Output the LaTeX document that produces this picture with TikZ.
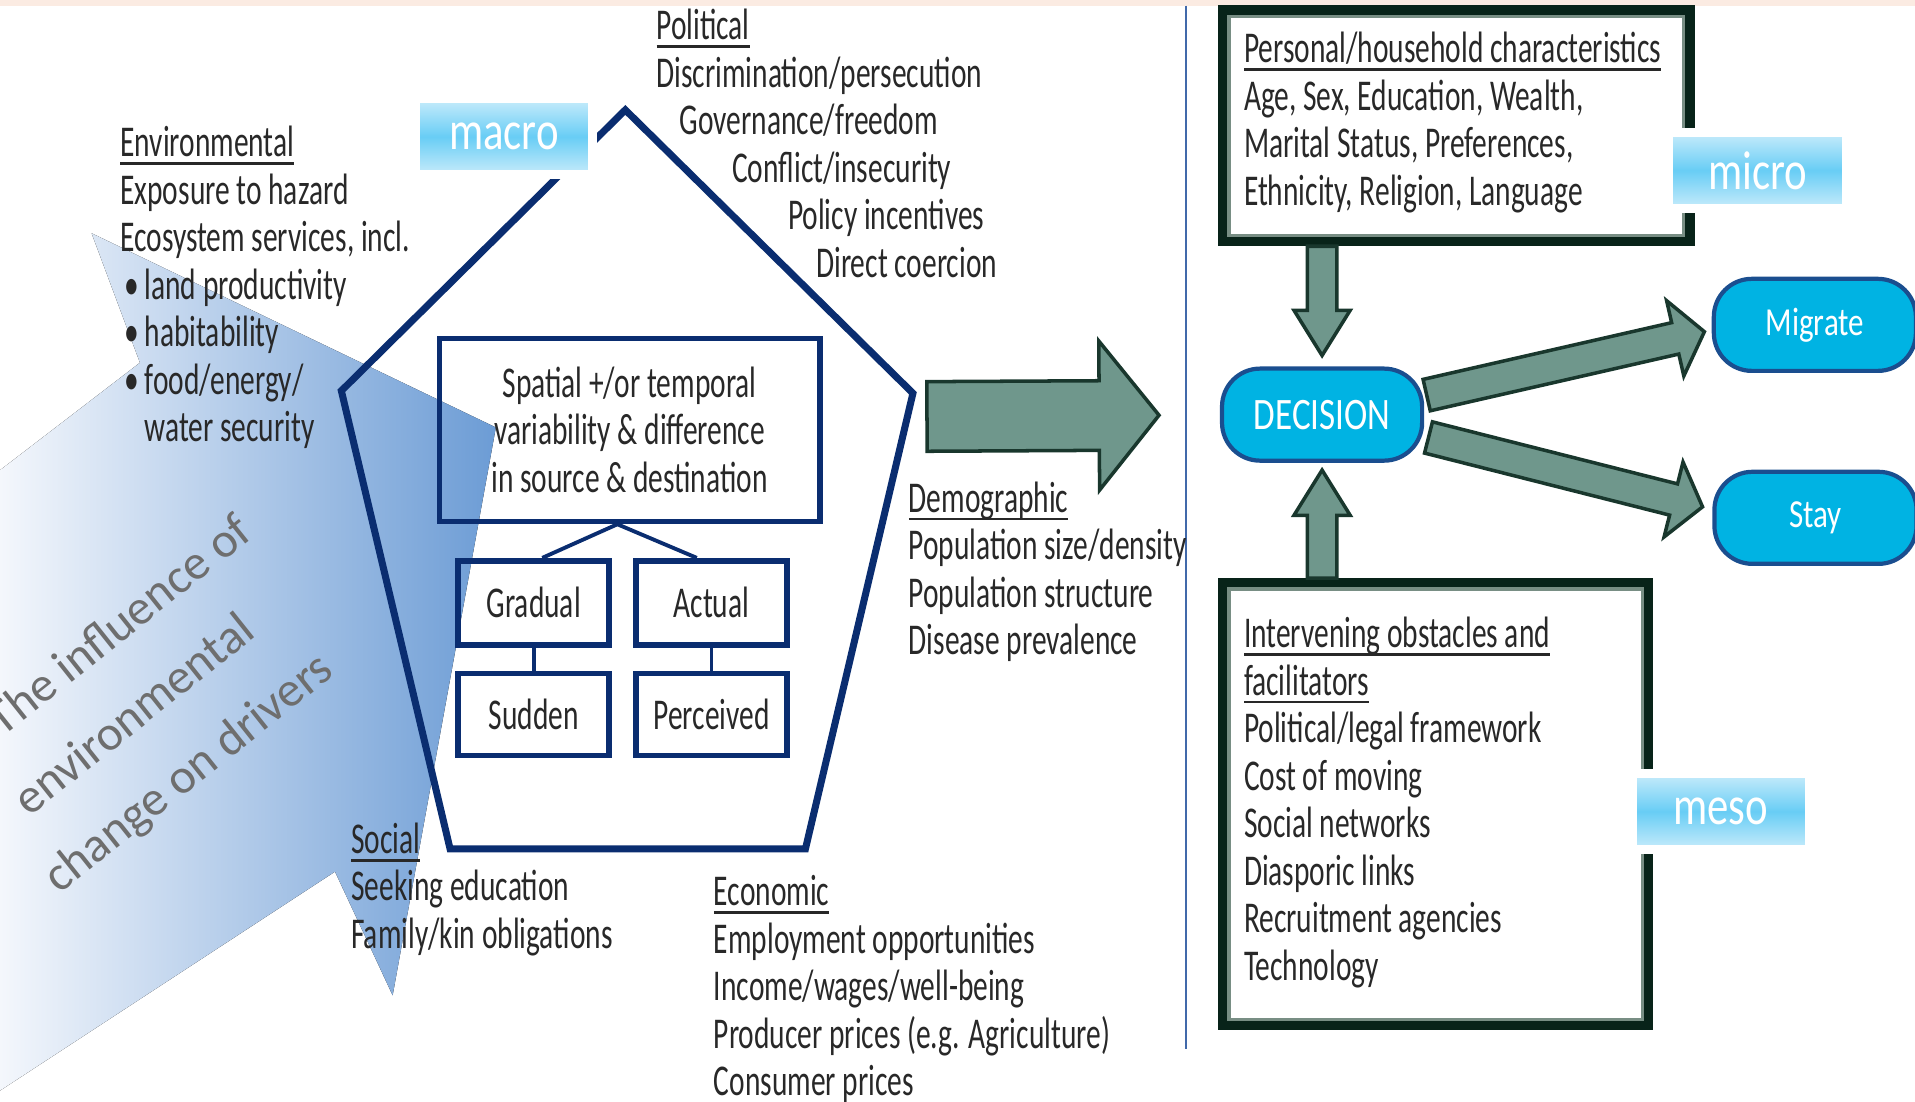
\documentclass[tikz,border=0pt]{standalone}
\usepackage{fontspec}
\setmainfont{Carlito}
\newfontfamily\gill{Carlito}[FakeStretch=0.67]
\newfontfamily\gillm{Carlito}[FakeStretch=0.78]
\usetikzlibrary{positioning,calc}

\definecolor{navy}{RGB}{10,45,112}
\definecolor{txt}{RGB}{40,40,40}
\definecolor{peach}{RGB}{251,235,226}
\definecolor{divblue}{RGB}{65,105,170}
\definecolor{arrL}{RGB}{244,247,252}
\definecolor{arrR}{RGB}{108,156,213}
\definecolor{inflgray}{RGB}{110,110,110}
\definecolor{sage}{RGB}{111,151,140}
\definecolor{dkgreen}{RGB}{25,55,45}
\definecolor{boxdark}{RGB}{8,35,25}
\definecolor{boxgray}{RGB}{120,142,132}
\definecolor{pillfill}{RGB}{0,179,227}
\definecolor{pillline}{RGB}{26,78,143}
\definecolor{lblA}{RGB}{200,236,251}
\definecolor{lblB}{RGB}{104,205,245}

% heading with a heavier underline
\newcommand{\hd}[1]{\setbox0\hbox{#1}\rlap{\rule[-2.3pt]{\wd0}{0.8pt}}\box0}

% block arrow: [style]{from}{to}{half shaft}{half head}{head length}
\newcommand{\blockarrow}[6][]{%
  \path ($(#3)!#6!(#2)$) coordinate (bahead);
  \draw[#1] ($(#2)!#4!90:(#3)$) -- ($(bahead)!#4!90:(#3)$)
    -- ($(bahead)!#5!90:(#3)$) -- (#3)
    -- ($(bahead)!#5!-90:(#3)$) -- ($(bahead)!#4!-90:(#3)$)
    -- ($(#2)!#4!-90:(#3)$) -- cycle;}

\begin{document}
\begin{tikzpicture}[x=0.012213cm, y=-0.012213cm,
  drv/.style={anchor=north west, inner sep=0pt, align=left, text=txt,
    font=\gill\fontsize{12.5}{13.5}\selectfont},
  cell/.style={draw=navy, line width=1.6pt, inner sep=0pt, align=center, text=txt,
    font=\gill\fontsize{12.5}{13.5}\selectfont},
  bigbox/.style={draw=boxdark, line width=2.7pt, inner sep=0pt},
  lvl/.style={draw=white, line width=2.5pt, top color=lblA, bottom color=lblA,
    middle color=lblB, text=white, inner sep=0pt, minimum width=1.77cm,
    minimum height=0.76cm, font=\gillm\fontsize{15.6}{18}\selectfont},
  pill/.style={rectangle, rounded corners=0.38cm, draw=pillline, line width=1.2pt,
    fill=pillfill, text=white, minimum width=2cm, minimum height=0.92cm,
    font=\gillm\fontsize{12.8}{15}\selectfont},
  garr/.style={fill=sage, draw=dkgreen, line width=1pt},
  infl/.style={inner sep=0pt, rotate=38.5, text=inflgray, font=\fontsize{14}{16}\selectfont}
]
\useasboundingbox (0,0) rectangle (1568,902);

% top band and divider
\fill[peach] (0,0) rectangle (1568,4.7);
\draw[divblue, line width=0.75pt] (971,4.7) -- (971,859);

% environmental change arrow
\fill[left color=arrL, right color=arrR] (0,385) -- (114.6,297) -- (75,191) -- (406,350)
  -- (321.5,815) -- (274.3,713.7) -- (0,893) -- cycle;
\node[infl] (infl1) at (96.5,511) {The influence of};
\node[infl] (infl2) at (108.8,584) {environmental};
\node[infl] (infl3) at (155.2,634) {change on drivers};

% pentagon of drivers
\coordinate (pT) at (512,90);
\coordinate (pR) at (747.5,322);
\coordinate (pBR) at (659.5,695);
\coordinate (pBL) at (368.5,695);
\coordinate (pL) at (279.5,320);
\draw[navy, line width=2pt] (pT) -- (pR) -- (pBR) -- (pBL) -- (pL) -- cycle;

\node[cell, minimum width=3.8cm, minimum height=1.83cm] (spatial) at (515.5,352)
  {Spatial +/or temporal\\variability \& difference\\in source \& destination};
\node[cell, minimum width=1.51cm, minimum height=0.84cm] (gradual) at (437,493.5) {Gradual};
\node[cell, minimum width=1.51cm, minimum height=0.84cm, right=0.21cm of gradual] (actual) {Actual};
\node[cell, minimum width=1.51cm, minimum height=0.82cm, below=0.23cm of gradual] (sudden) {Sudden};
\node[cell, minimum width=1.51cm, minimum height=0.82cm, below=0.23cm of actual] (perceived) {Perceived};

\draw[navy, line width=1.1pt] ($(gradual.north)+(7,0)$) -- ($(spatial.south)+(-10,0)$) -- ($(actual.north)+(-12,0)$);
\draw[navy, line width=1.1pt] (gradual) -- (sudden);
\draw[navy, line width=1.1pt] (actual) -- (perceived);

\node[lvl] (macro) at (412.5,112) {macro};

% drivers
\node[drv] (envtxt) at (98,100.5) {\strut\hd{Environmental}\\
  Exposure to hazard\\
  Ecosystem services, incl.\\
  \makebox[6.9pt][l]{\hspace{1.2pt}\textbullet}land productivity\\
  \makebox[6.9pt][l]{\hspace{1.2pt}\textbullet}habitability\\
  \makebox[6.9pt][l]{\hspace{1.2pt}\textbullet}food/energy/\\
  \hspace*{6.9pt}water security};
\node[drv] (poltxt) at (537,4.7) {\strut\hd{Political}\\
  Discrimination/persecution\\
  \hspace*{6.6pt}Governance/freedom\\
  \hspace*{21.5pt}Conflict/insecurity\\
  \hspace*{37.4pt}Policy incentives\\
  \hspace*{45.4pt}Direct coercion};
\node[drv] (demtxt) at (743.5,391.7) {\strut\hd{Demographic}\\
  Population size/density\\
  Population structure\\
  Disease prevalence};
\node[drv] (soctxt) at (287,671) {\strut\hd{Social}\\
  Seeking education\\
  Family/kin obligations};
\node[drv] (ecotxt) at (584,713.7) {\strut\hd{Economic}\\
  Employment opportunities\\
  Income/wages/well-being\\
  Producer prices (e.g. Agriculture)\\
  Consumer prices};

% drivers feed the decision
\coordinate (gA) at (759,341);
\coordinate (gB) at (949,340);
\blockarrow[garr]{gA}{gB}{0.348cm}{0.745cm}{0.598cm}

% micro level
\node[bigbox, minimum width=4.67cm, minimum height=2.313cm] (pers) at (1192.5,103) {};
\draw[boxgray, line width=0.9pt] ([shift={(9,9)}]pers.north west) rectangle ([shift={(-9,-9)}]pers.south east);
\node[drv] (perstxt) at (1018,23.7) {\strut\hd{Personal/household characteristics}\\
  Age, Sex, Education, Wealth,\\
  Marital Status, Preferences,\\
  Ethnicity, Religion, Language};
\node[lvl] (micro) at (1439,139.5) {micro};

% meso level
\node[bigbox, minimum width=4.255cm, minimum height=4.426cm] (inter) at (1175.5,658.5) {};
\draw[boxgray, line width=0.9pt] ([shift={(9,9)}]inter.north west) rectangle ([shift={(-9,-9)}]inter.south east);
\node[drv] (intertxt) at (1018,502.7) {\strut\hd{Intervening obstacles and}\\
  \hd{facilitators}\\
  Political/legal framework\\
  Cost of moving\\
  Social networks\\
  Diasporic links\\
  Recruitment agencies\\
  Technology};
\node[lvl] (meso) at (1409,664.5) {meso};

% decision and outcomes
\node[pill] (dec) at (1082.5,339.5) {DECISION};
\node[pill, minimum width=2.02cm, font=\gillm\fontsize{11.3}{14}\selectfont] (mig) at (1486,266) {Migrate};
\node[pill, minimum width=2.02cm, font=\gillm\fontsize{11.3}{14}\selectfont] (stay) at (1486.5,424) {Stay};

\coordinate (dTop) at (dec.north |- pers.south);
\coordinate (dIn) at ($(dec.north)+(0,-9)$);
\blockarrow[garr]{dTop}{dIn}{0.147cm}{0.281cm}{0.452cm}
\coordinate (uBot) at (dec.south |- inter.north);
\coordinate (uIn) at ($(dec.south)+(0,6)$);
\blockarrow[garr]{uBot}{uIn}{0.147cm}{0.281cm}{0.452cm}
\coordinate (mFrom) at ($(dec.east)+(2,-16)$);
\coordinate (mTo) at ($(mig.west)+(-6,5.6)$);
\blockarrow[garr]{mFrom}{mTo}{0.161cm}{0.386cm}{0.299cm}
\coordinate (sFrom) at ($(dec.east)+(3.5,18.7)$);
\coordinate (sTo) at ($(stay.west)+(-8,-9)$);
\blockarrow[garr]{sFrom}{sTo}{0.161cm}{0.386cm}{0.299cm}

\end{tikzpicture}
\end{document}
